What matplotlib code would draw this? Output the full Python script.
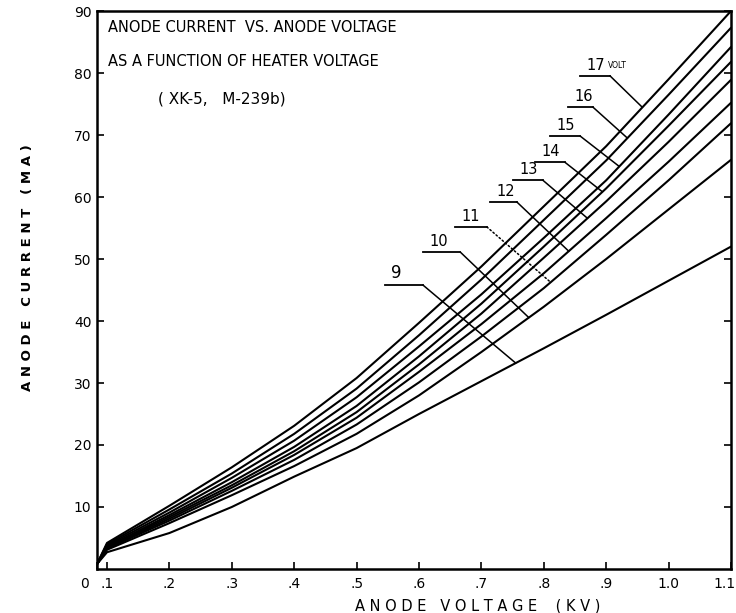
import numpy as np
import matplotlib
matplotlib.use("Agg")
import matplotlib.pyplot as plt
from matplotlib.transforms import ScaledTranslation

# anode voltage (KV) where the curves were read
volts = [0.0, 0.1, 0.2, 0.3, 0.4, 0.5, 0.6, 0.7, 0.8, 0.9, 1.0, 1.1]

# anode current (MA) for each heater voltage
cur_9 = [0.8, 2.7, 5.8, 10.0, 14.9, 19.5, 25.0, 30.3, 35.6, 41.0, 46.5, 52.0]
cur_10 = [0.8, 3.1, 7.4, 11.9, 16.6, 21.8, 28.0, 35.0, 42.3, 50.0, 58.0, 66.0]
cur_11 = [0.8, 3.3, 7.8, 12.6, 17.6, 23.3, 30.1, 37.5, 45.3, 53.9, 62.7, 71.9]
cur_12 = [0.8, 3.4, 8.1, 13.1, 18.4, 24.4, 31.8, 39.5, 47.7, 56.6, 65.7, 75.2]
cur_13 = [0.8, 3.5, 8.4, 13.5, 19.0, 25.3, 33.0, 41.2, 50.2, 59.3, 68.9, 78.9]
cur_14 = [0.8, 3.6, 8.7, 14.0, 19.7, 26.3, 34.3, 42.8, 52.0, 61.4, 71.5, 81.8]
cur_15 = [0.8, 3.8, 9.1, 14.7, 20.7, 27.7, 35.9, 44.3, 53.4, 62.7, 73.3, 84.2]
cur_16 = [0.8, 4.0, 9.6, 15.4, 21.8, 29.1, 37.7, 46.7, 56.3, 65.9, 76.5, 87.3]
cur_17 = [0.8, 4.2, 10.2, 16.4, 23.1, 30.8, 39.7, 48.8, 58.5, 68.2, 79.0, 90.0]

curves = [cur_9, cur_10, cur_11, cur_12, cur_13, cur_14, cur_15, cur_16, cur_17]
curve_labels = ['9', '10', '11', '12', '13', '14', '15', '16', '17']

# where each leader line meets its curve (KV)
leader_x = [0.755, 0.776, 0.811, 0.840, 0.870, 0.894, 0.921, 0.934, 0.958]

x_ticks = [0.0, 0.1, 0.2, 0.3, 0.4, 0.5, 0.6, 0.7, 0.8, 0.9, 1.0, 1.1]
x_tick_labels = ['0', '.1', '.2', '.3', '.4', '.5', '.6', '.7', '.8', '.9', '1.0', '1.1']
y_ticks = [10, 20, 30, 40, 50, 60, 70, 80, 90]
y_tick_labels = ['10', '20', '30', '40', '50', '60', '70', '80', '90']


# the hand-drawn axis squeezes the first 0.1 KV
def fwd(x):
    x = np.asarray(x, dtype=float)
    return np.where(x < 0.1, x * 0.16, x - 0.084)


def inv(y):
    y = np.asarray(y, dtype=float)
    return np.where(y < 0.016, y / 0.16, y + 0.084)


fig = plt.figure(figsize=(7.36, 6.13), dpi=100)
ax = fig.add_axes([0.1318, 0.0718, 0.8614, 0.9102])
ax.set_xscale('function', functions=(fwd, inv))

for c in curves:
    ax.plot(volts, c, color='black', lw=1.5, solid_capstyle='round')

ax.set_xlim(0, 1.1)
ax.set_ylim(0, 90)

# underline (x0, x1, y) of each label, in axes fraction
underlines = [(0.454, 0.514, 0.509), (0.514, 0.573, 0.568), (0.565, 0.615, 0.613),
              (0.620, 0.662, 0.658), (0.656, 0.703, 0.697), (0.691, 0.738, 0.729),
              (0.715, 0.762, 0.776), (0.743, 0.782, 0.828), (0.762, 0.809, 0.884)]

for i, lab in enumerate(curve_labels):
    x0, x1, y = underlines[i]
    ex = leader_x[i]
    ey = np.interp(ex, volts, curves[i])
    fs = 12 if lab == '9' else 10.5
    ax.text(x0 + 0.010, y + 0.005, lab, transform=ax.transAxes,
            fontsize=fs, ha='left', va='bottom')
    ax.plot([x0, x1], [y, y], transform=ax.transAxes, color='black', lw=1.3)
    style = ':' if lab == '11' else '-'
    ax.annotate('', xy=(ex, ey), xycoords='data',
                xytext=(x1, y), textcoords='axes fraction',
                arrowprops=dict(arrowstyle='-', color='black', lw=1.1,
                                linestyle=style, shrinkA=0, shrinkB=0))

ax.text(0.806, 0.894, 'VOLT', transform=ax.transAxes, fontsize=5.5, ha='left', va='bottom')

ax.text(0.017, 0.971, 'ANODE CURRENT  VS. ANODE VOLTAGE', transform=ax.transAxes,
        fontsize=10.5, ha='left', va='center')
ax.text(0.017, 0.910, 'AS A FUNCTION OF HEATER VOLTAGE', transform=ax.transAxes,
        fontsize=10.5, ha='left', va='center')
ax.text(0.096, 0.842, '( XK-5,   M-239b)', transform=ax.transAxes,
        fontsize=11, ha='left', va='center')

ax.set_xticks(x_ticks)
ax.set_xticklabels(x_tick_labels)
ax.set_yticks(y_ticks)
ax.set_yticklabels(y_tick_labels)
ax.tick_params(axis='both', direction='in', length=5, width=1.2, labelsize=10)
ax.tick_params(axis='y', right=True, pad=4)
ax.tick_params(axis='x', pad=6)

# "0" sits left of the corner, "1.1" runs into the right edge
xlabels = ax.get_xticklabels()
xlabels[0].set_ha('right')
xlabels[0].set_transform(xlabels[0].get_transform()
                         + ScaledTranslation(-6 / 72, 0, fig.dpi_scale_trans))
xlabels[-1].set_ha('right')
xlabels[-1].set_transform(xlabels[-1].get_transform()
                          + ScaledTranslation(3 / 72, 0, fig.dpi_scale_trans))

for s in ax.spines.values():
    s.set_linewidth(1.8)

ax.set_xlabel('A N O D E   V O L T A G E    ( K V )', fontsize=10.5)
ax.set_ylabel('A N O D E   C U R R E N T   ( M A )', fontsize=9.5, fontweight='bold')
ax.xaxis.set_label_coords(0.60, -0.052)
ax.yaxis.set_label_coords(-0.10, 0.54)

fig.savefig('out.png', dpi=100)
